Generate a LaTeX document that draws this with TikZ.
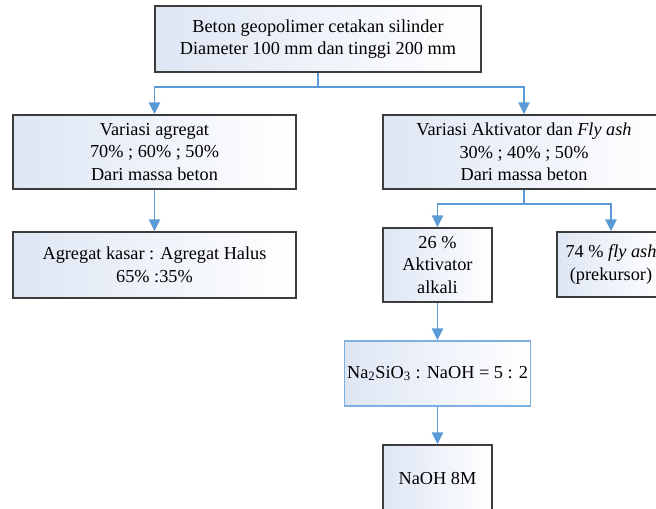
\documentclass[tikz,border=0pt]{standalone}
\usepackage{fontspec}
\setmainfont{Liberation Serif}
\usepackage{xcolor}
\usetikzlibrary{arrows.meta,positioning}

\definecolor{boxline}{RGB}{60,60,60}
\definecolor{boxshade}{RGB}{222,230,244}
\definecolor{flowblue}{RGB}{91,155,213}
\definecolor{lightline}{RGB}{125,175,225}

\begin{document}
\begin{tikzpicture}[
      x=0.025cm,y=-0.025cm,
      font=\fontsize{13}{16}\selectfont,
      >={Triangle[length=3mm,width=2.8mm]},
      stage/.style={draw=boxline,line width=1pt,left color=boxshade,right color=white,align=center,inner sep=2pt},
      softstage/.style={stage,draw=lightline},
      arrow/.style={->,draw=flowblue,line width=1.3pt}
    ]
      \useasboundingbox (0,0) rectangle (656,508);
      \clip (0,0) rectangle (656,508);

      \node[stage,minimum width=8.15cm,minimum height=1.65cm] (beton) at (318,39) {Beton geopolimer cetakan silinder\\Diameter 100 mm dan tinggi 200 mm};

      \node[stage,minimum width=7.075cm,minimum height=1.85cm] (varagr) at (154.5,152) {Variasi agregat\\70\% ; 60\% ; 50\%\\Dari massa beton};
      \node[stage,minimum width=7.05cm,minimum height=1.85cm] (varakt) at (524,152) {Variasi Aktivator dan \textit{Fly ash}\\30\% ; 40\% ; 50\%\\Dari massa beton};

      \node[stage,minimum width=7.075cm,minimum height=1.65cm] (agr) at (154.5,265) {Agregat kasar : Agregat Halus\\65\% :35\%};
      \node[stage,minimum width=2.725cm,minimum height=1.85cm] (akt) at (437.5,265) {26 \%\\Aktivator\\alkali};
      \node[stage,minimum width=2.7cm,minimum height=1.625cm] (fly) at (611,264.5) {74 \% \textit{fly ash}\\(prekursor)};

      \node[softstage,minimum width=4.65cm,minimum height=1.625cm] (rasio) at (437.5,373.5) {Na\textsubscript{2}SiO\textsubscript{3} : NaOH = 5 : 2};
      \node[stage,minimum width=2.725cm,minimum height=1.65cm] (naoh) at (437.5,478) {NaOH 8M};

      \coordinate (j1) at (318,87);
      \coordinate (j2) at (524,204);

      \draw[arrow] (beton.south) -- (j1) -| (varagr.north);
      \draw[arrow] (j1) -| (varakt.north);
      \draw[arrow] (varagr.south) -- (agr.north);
      \draw[arrow] (varakt.south) -- (j2) -| (akt.north);
      \draw[arrow] (j2) -| (fly.north);
      \draw[arrow] (akt.south) -- (rasio.north);
      \draw[arrow] (rasio.south) -- (naoh.north);
    \end{tikzpicture}
\end{document}
